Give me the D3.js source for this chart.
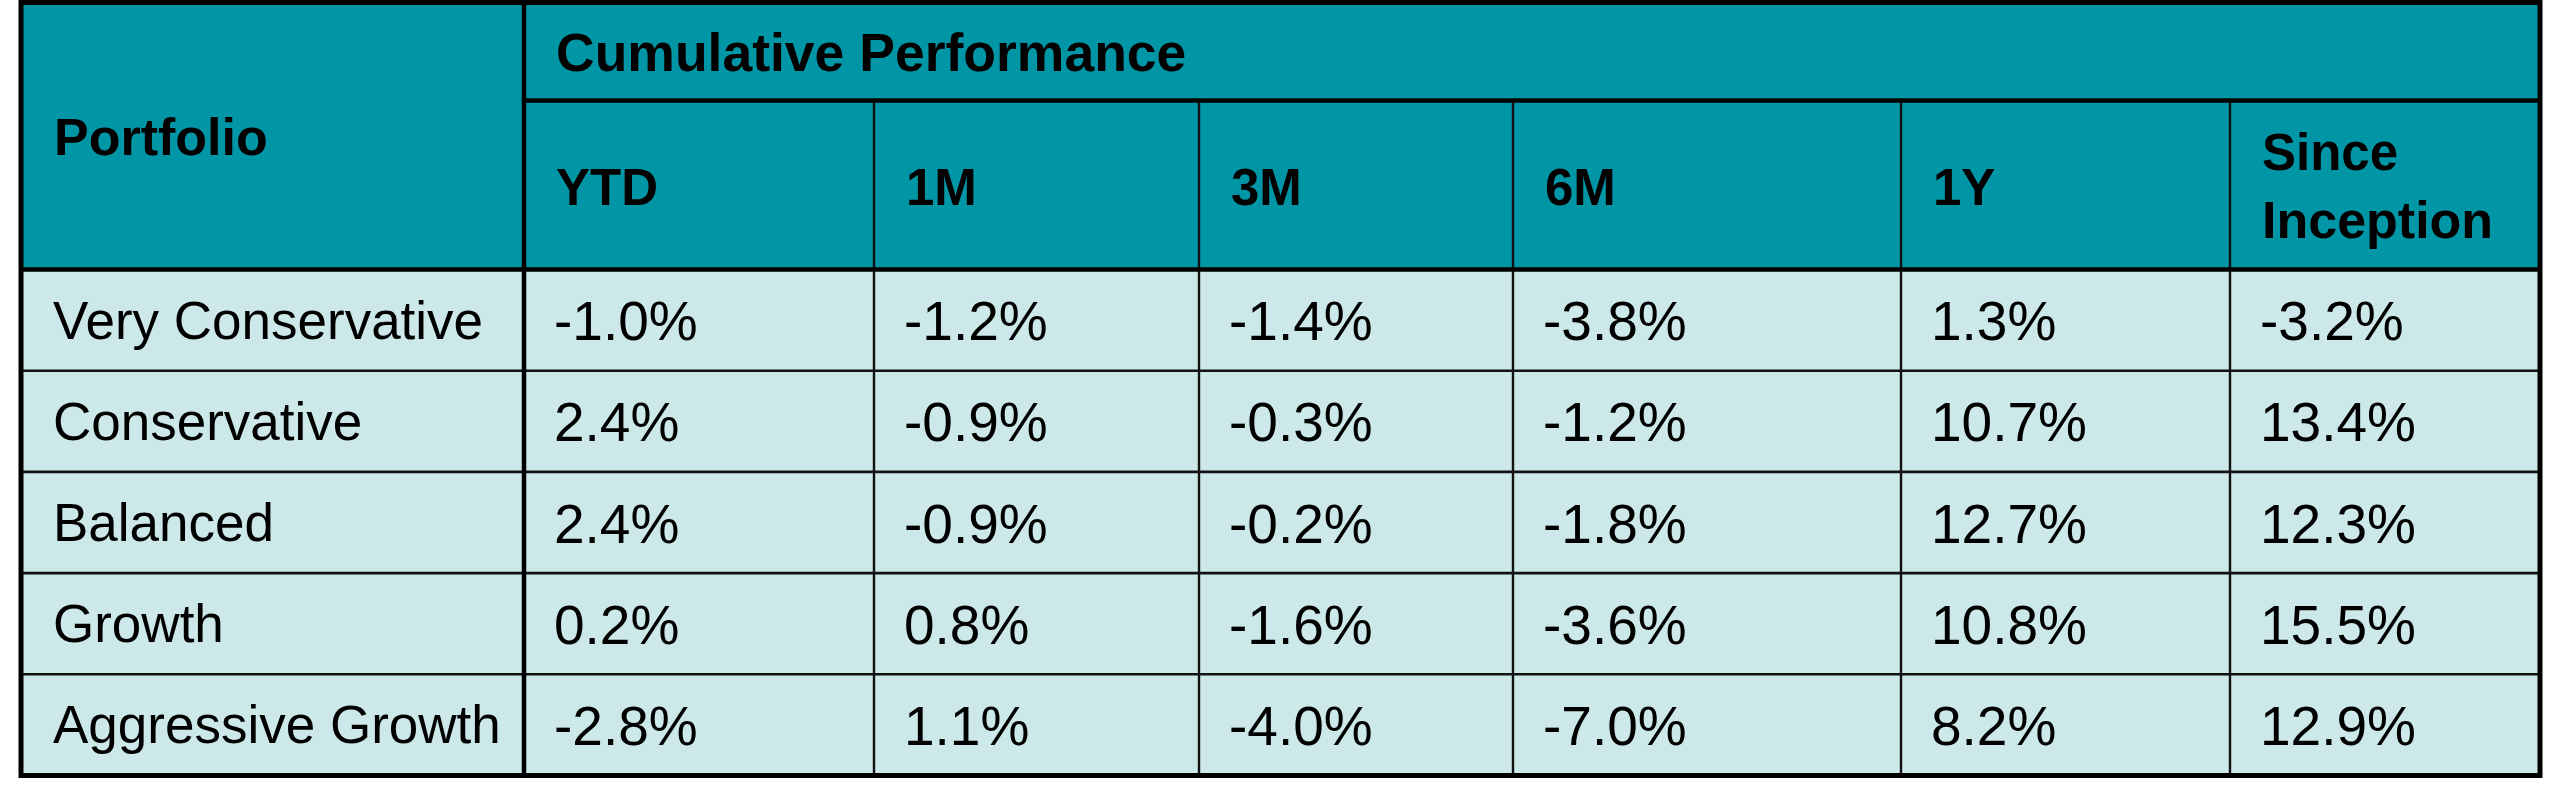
<!DOCTYPE html>
<html>
<head>
<meta charset="utf-8">
<script src="https://cdn.jsdelivr.net/npm/d3@7"></script>
<style>
  html, body { margin: 0; padding: 0; background: #ffffff; }
  svg { display: block; }
</style>
</head>
<body>
<svg id="chart" width="2560" height="792"></svg>
<script>
// ---- data ----
const portfolios = ["Very Conservative", "Conservative", "Balanced", "Growth", "Aggressive Growth"];
const periods = ["YTD", "1M", "3M", "6M", "1Y", "Since Inception"];
const ytd    = [-1.0,  2.4,  2.4,  0.2, -2.8];
const m1     = [-1.2, -0.9, -0.9,  0.8,  1.1];
const m3     = [-1.4, -0.3, -0.2, -1.6, -4.0];
const m6     = [-3.8, -1.2, -1.8, -3.6, -7.0];
const y1     = [ 1.3, 10.7, 12.7, 10.8,  8.2];
const since  = [-3.2, 13.4, 12.3, 15.5, 12.9];
const seriesValues = [ytd, m1, m3, m6, y1, since];
const groupTitle = "Cumulative Performance";
const rowHeaderTitle = "Portfolio";

// ---- layout ----
const colEdges = [21, 524, 874, 1199, 1513, 1901, 2230, 2540];
const tableTop = 2.5, headSplit = 100.5, headBottom = 269.5, tableBottom = 775.5;
const headerFill = "#0096A6";
const bodyFill = "#CCE8E9";
const pad = 32;
const xMin = colEdges[0], xMax = colEdges[colEdges.length - 1];

const svg = d3.select("#chart");
const colKeys = [rowHeaderTitle].concat(periods);
const xLeft = d3.scaleOrdinal().domain(colKeys).range(colEdges.slice(0, -1));
const yRow = d3.scaleBand().domain(portfolios).range([headBottom, tableBottom]).padding(0);

// backgrounds
svg.append("rect").attr("x", xMin).attr("y", tableTop)
  .attr("width", xMax - xMin).attr("height", headBottom - tableTop)
  .attr("fill", headerFill);
svg.append("rect").attr("x", xMin).attr("y", headBottom)
  .attr("width", xMax - xMin).attr("height", tableBottom - headBottom)
  .attr("fill", bodyFill);

// cells (data-driven)
const cells = [];
portfolios.forEach((p, r) => {
  periods.forEach((per, c) => cells.push({ p, per, v: seriesValues[c][r] }));
});

const thin = "#111";
// body row lines
svg.append("g").selectAll("line").data(portfolios.slice(1)).join("line")
  .attr("x1", xMin).attr("x2", xMax)
  .attr("y1", d => yRow(d)).attr("y2", d => yRow(d))
  .attr("stroke", thin).attr("stroke-width", 2.6);
// body + header column lines
svg.append("g").selectAll("line").data(periods.slice(1)).join("line")
  .attr("x1", d => xLeft(d)).attr("x2", d => xLeft(d))
  .attr("y1", headSplit).attr("y2", tableBottom)
  .attr("stroke", thin).attr("stroke-width", 2.4);
// header split line (under group title)
svg.append("line").attr("x1", xLeft(periods[0])).attr("x2", xMax)
  .attr("y1", headSplit).attr("y2", headSplit).attr("stroke", "#000").attr("stroke-width", 4.5);
// header bottom
svg.append("line").attr("x1", xMin).attr("x2", xMax)
  .attr("y1", headBottom).attr("y2", headBottom).attr("stroke", "#000").attr("stroke-width", 4.5);
// portfolio column divider
svg.append("line").attr("x1", xLeft(periods[0])).attr("x2", xLeft(periods[0]))
  .attr("y1", tableTop).attr("y2", tableBottom).attr("stroke", "#000").attr("stroke-width", 4.5);
// outer border
svg.append("rect").attr("x", xMin).attr("y", tableTop)
  .attr("width", xMax - xMin).attr("height", tableBottom - tableTop)
  .attr("fill", "none").attr("stroke", "#000").attr("stroke-width", 5);

const font = "'Liberation Sans', Arial, sans-serif";

// header texts
svg.append("text").text(groupTitle)
  .attr("x", xLeft(periods[0]) + pad).attr("y", 71)
  .attr("font-family", font).attr("font-weight", "bold").attr("font-size", 53.5).attr("fill", "#000");
svg.append("text").text(rowHeaderTitle)
  .attr("x", xMin + pad + 1).attr("y", 155)
  .attr("font-family", font).attr("font-weight", "bold").attr("font-size", 52).attr("fill", "#000");

const headG = svg.append("g").selectAll("text").data(periods).join("text")
  .attr("font-family", font).attr("font-weight", "bold").attr("font-size", 51).attr("fill", "#000")
  .attr("x", d => xLeft(d) + pad);
headG.each(function(d) {
  const words = d.split(" ");
  const t = d3.select(this);
  if (words.length === 1) {
    t.attr("y", 205).text(d);
  } else {
    t.selectAll("tspan").data(words).join("tspan")
      .attr("x", xLeft(d) + pad)
      .attr("y", (w, i) => 170 + i * 68)
      .attr("font-size", (w, i) => i === 1 ? 52 : 51)
      .text(w => w);
  }
});

// row labels
svg.append("g").selectAll("text").data(portfolios).join("text")
  .attr("x", xMin + pad).attr("y", d => yRow(d) + yRow.bandwidth() / 2 + 18.5)
  .attr("font-family", font).attr("font-size", 53).attr("fill", "#000")
  .text(d => d);

// values
const fmt = v => v.toFixed(1) + "%";
svg.append("g").selectAll("text").data(cells).join("text")
  .attr("x", d => xLeft(d.per) + pad - 2)
  .attr("y", d => yRow(d.p) + yRow.bandwidth() / 2 + 20)
  .attr("font-family", font).attr("font-size", 55).attr("fill", "#000")
  .text(d => fmt(d.v));
</script>
</body>
</html>
